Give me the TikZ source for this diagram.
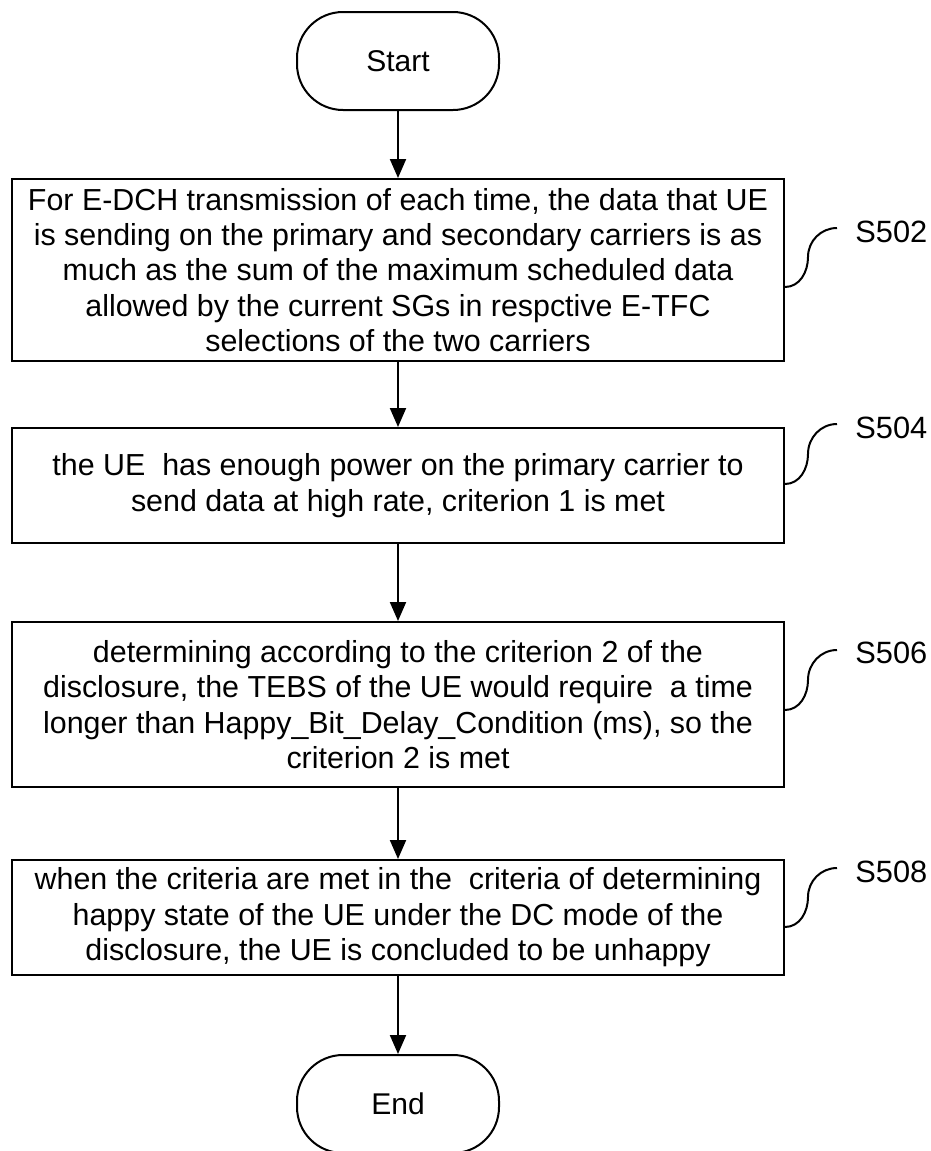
\documentclass[tikz,border=0pt]{standalone}
\usepackage{fontspec}
\setmainfont{Liberation Sans}
\usetikzlibrary{arrows.meta}
\tikzset{terminal/.style = {draw, line width=1pt, rounded corners=23pt,
                            minimum width=101pt, minimum height=49pt,
                            font=\fontsize{15pt}{17.5pt}\selectfont}}
\tikzset{stepbox/.style = {draw, line width=1pt, minimum width=386pt, inner sep=0pt,
                           align=center, font=\fontsize{15.2pt}{17.7pt}\selectfont}}
\tikzset{arrow/.style = {-{Triangle[length=9.5pt, width=8pt]}, line width=1pt}}
\tikzset{tag/.style = {anchor=west, inner sep=0pt, font=\fontsize{15.4pt}{18pt}\selectfont}}

\begin{document}
\begin{tikzpicture}[x=0.5pt, y=-0.5pt]
		\useasboundingbox (0, 0) rectangle (931, 1151);
		\node [terminal] (0) at (398, 61) {Start};
		\node [stepbox, minimum height=91pt] (1) at (398, 270) {For E-DCH transmission of each time, the data that UE\\is sending on the primary and secondary carriers is as\\much as the sum of the maximum scheduled data\\allowed by the current SGs in respctive E-TFC\\selections of the two carriers};
		\node [stepbox, minimum height=57.5pt] (2) at (398, 485.5) {the UE\ \ has enough power on the primary carrier to\\send data at high rate, criterion 1 is met};
		\node [stepbox, minimum height=82.5pt] (3) at (398, 704.5) {determining according to the criterion 2 of the\\disclosure, the TEBS of the UE would require\ \ a time\\longer than Happy\_Bit\_Delay\_Condition (ms), so the\\criterion 2 is met};
		\node [stepbox, minimum height=57.5pt] (4) at (398, 917.5) {when the criteria are met in the\ \ criteria of determining\\happy state of the UE under the DC mode of the\\disclosure, the UE is concluded to be unhappy};
		\node [terminal] (5) at (398, 1104) {End};
		% step numbers
		\coordinate (6) at (837, 228);
		\coordinate (7) at (837, 424);
		\coordinate (8) at (837, 650);
		\coordinate (9) at (837, 868);
		\node [tag] (10) at (855, 232) {S502};
		\node [tag] (11) at (855, 428) {S504};
		\node [tag] (12) at (855, 653) {S506};
		\node [tag] (13) at (855, 872) {S508};
		\draw [arrow] (0) to (1);
		\draw [arrow] (1) to (2);
		\draw [arrow] (2) to (3);
		\draw [arrow] (3) to (4);
		\draw [arrow] (4) to (5);
		\draw [line width=1pt] ([yshift=-8.5pt]1.east) to [out=0, in=-90] ++(11.5pt, 15pt) to [out=90, in=180] (6);
		\draw [line width=1pt] ([yshift=0.75pt]2.east) to [out=0, in=-90] ++(11.5pt, 15pt) to [out=90, in=180] (7);
		\draw [line width=1pt] ([yshift=-2.75pt]3.east) to [out=0, in=-90] ++(11.5pt, 15pt) to [out=90, in=180] (8);
		\draw [line width=1pt] ([yshift=-4.75pt]4.east) to [out=0, in=-90] ++(11.5pt, 15pt) to [out=90, in=180] (9);
	\end{tikzpicture}
\end{document}
